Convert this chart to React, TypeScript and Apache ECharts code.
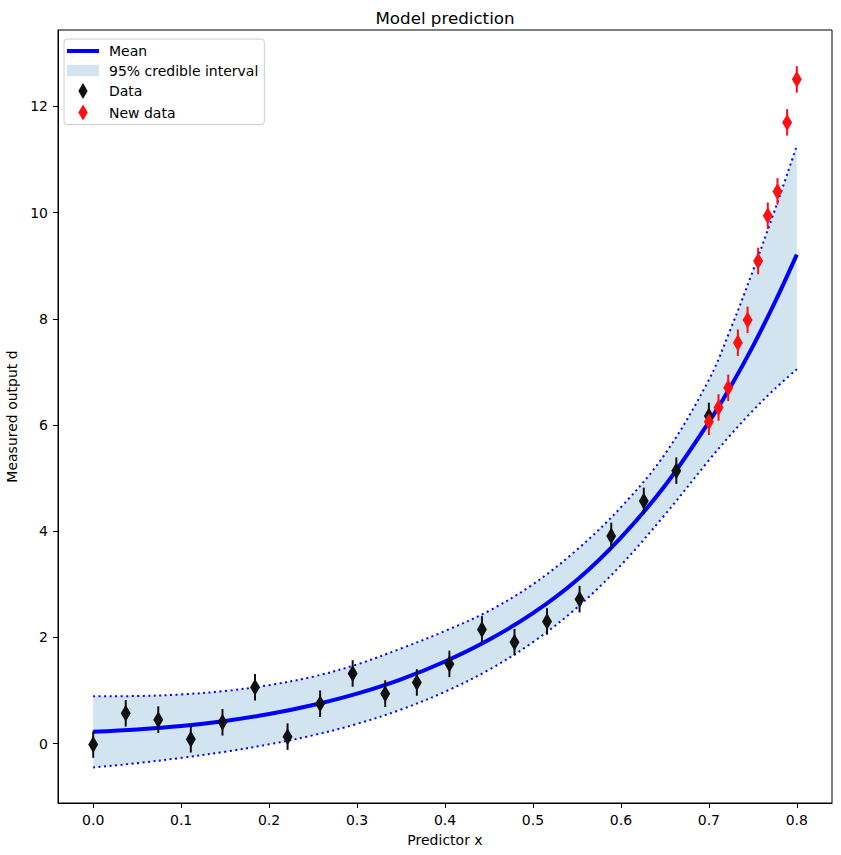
import React, { useEffect, useRef } from "react";
import * as echarts from "echarts";

// Posterior prediction grid (x) with mean and 95% credible band
const gridX = [0, 0.05, 0.1, 0.15, 0.2, 0.25, 0.3, 0.35, 0.4, 0.45, 0.5, 0.55, 0.6, 0.65, 0.7, 0.725, 0.75, 0.775, 0.8];
const meanY = [0.22, 0.265, 0.33, 0.425, 0.555, 0.725, 0.94, 1.21, 1.545, 1.955, 2.455, 3.08, 3.88, 4.855, 6.055, 6.73, 7.48, 8.31, 9.21];
const upperY = [0.89, 0.895, 0.925, 0.99, 1.1, 1.26, 1.49, 1.79, 2.12, 2.5, 3.0, 3.65, 4.45, 5.45, 6.85, 7.82, 8.9, 10.05, 11.26];
const lowerY = [-0.45, -0.37, -0.27, -0.155, -0.015, 0.155, 0.37, 0.64, 0.975, 1.39, 1.91, 2.56, 3.36, 4.31, 5.335, 5.82, 6.27, 6.68, 7.05];

// Observations used for fitting
const dataX = [0, 0.037, 0.074, 0.111, 0.147, 0.184, 0.221, 0.258, 0.295, 0.332, 0.368, 0.405, 0.442, 0.479, 0.516, 0.553, 0.589, 0.626, 0.663, 0.7];
const dataY = [-0.02, 0.57, 0.45, 0.08, 0.4, 1.06, 0.13, 0.75, 1.32, 0.94, 1.15, 1.5, 2.15, 1.91, 2.3, 2.72, 3.91, 4.57, 5.14, 6.17];

// Later observations beyond the fitted range
const newX = [0.7, 0.711, 0.722, 0.733, 0.744, 0.756, 0.767, 0.778, 0.789, 0.8];
const newY = [6.06, 6.33, 6.7, 7.55, 7.98, 9.09, 9.94, 10.4, 11.7, 12.51];

// Measurement error (half-length of the error bars)
const measErr = 0.25;

const xTicks = [0, 0.1, 0.2, 0.3, 0.4, 0.5, 0.6, 0.7, 0.8];
const yTicks = [0, 2, 4, 6, 8, 10, 12];

const FONT = "DejaVu Sans";
const DIAMOND = "path://M5,0 L10,8.5 L5,17 L0,8.5 Z";
const BAND_COLOR = "rgba(31,119,180,0.2)";
const BLACK = "#101010";
const RED = "#ff1010";
const BLUE = "#0000ff";
const SMOOTH = 0.35;

function errorBarSeries(xs: number[], ys: number[], color: string) {
  return {
    type: "custom",
    silent: true,
    z: 5,
    encode: { x: 0, y: 1 },
    data: xs.map((x, i) => [x, ys[i], measErr]),
    renderItem: (_params: any, api: any) => {
      const x = api.value(0);
      const y = api.value(1);
      const e = api.value(2);
      const top = api.coord([x, y + e]);
      const bot = api.coord([x, y - e]);
      return {
        type: "line",
        shape: { x1: top[0], y1: top[1], x2: bot[0], y2: bot[1] },
        style: { stroke: color, lineWidth: 2 },
      };
    },
  };
}

export default function App() {
  const ref = useRef<HTMLDivElement>(null);

  useEffect(() => {
    if (!ref.current) return;
    const chart = echarts.init(ref.current, null, { renderer: "svg" });

    const option = {
      animation: false,
      backgroundColor: "#ffffff",
      textStyle: { fontFamily: FONT },
      grid: {
        left: 58,
        right: 9,
        top: 30,
        bottom: 52,
        containLabel: false,
        outerBoundsMode: "none",
        show: true,
        borderColor: "#000",
        borderWidth: 1,
        backgroundColor: "transparent",
      },
      graphic: [
        {
          type: "text",
          x: 445,
          y: 18,
          style: {
            text: "Model prediction",
            font: `16.7px ${FONT}`,
            fill: "#000",
            textAlign: "center",
            textVerticalAlign: "middle",
          },
        },
      ],
      legend: {
        orient: "vertical",
        left: 64,
        top: 39,
        padding: [5, 6, 4, 3],
        itemWidth: 32,
        itemHeight: 16,
        itemGap: 5.5,
        backgroundColor: "rgba(255,255,255,0.8)",
        borderColor: "#cccccc",
        borderWidth: 1,
        borderRadius: 3,
        selectedMode: false,
        textStyle: { fontFamily: FONT, fontSize: 14, color: "#000", padding: [0, 0, 0, 5] },
        data: [
          { name: "Mean", icon: "path://M0,0 H32 V4 H0 Z", itemStyle: { color: BLUE, borderWidth: 0 } },
          { name: "95% credible interval", icon: "path://M0,0 H28 V10 H0 Z", itemStyle: { color: BAND_COLOR, borderWidth: 0 } },
          { name: "Data", icon: DIAMOND, itemStyle: { color: BLACK, borderWidth: 0, opacity: 1 } },
          { name: "New data", icon: DIAMOND, itemStyle: { color: RED, borderWidth: 0, opacity: 1 } },
        ],
      },
      xAxis: {
        type: "value",
        min: -0.04,
        max: 0.84,
        z: 10,
        name: "Predictor x",
        nameLocation: "middle",
        nameGap: 30,
        nameTextStyle: { fontFamily: FONT, fontSize: 14, color: "#000" },
        axisLine: { show: true, onZero: false, lineStyle: { color: "#000", width: 1 } },
        axisTick: { show: true, length: 5, customValues: xTicks, lineStyle: { color: "#000" } },
        axisLabel: {
          customValues: xTicks,
          formatter: (v: number) => v.toFixed(1),
          margin: 10,
          fontFamily: FONT,
          fontSize: 14,
          color: "#000",
        },
        splitLine: { show: false },
      },
      yAxis: {
        type: "value",
        min: -1.12,
        max: 13.44,
        z: 10,
        name: "Measured output d",
        nameLocation: "middle",
        nameGap: 29,
        nameRotate: 90,
        nameTextStyle: { fontFamily: FONT, fontSize: 14, color: "#000" },
        axisLine: { show: true, onZero: false, lineStyle: { color: "#000", width: 1 } },
        axisTick: { show: true, length: 5, customValues: yTicks, lineStyle: { color: "#000" } },
        axisLabel: {
          customValues: yTicks,
          formatter: (v: number) => String(v),
          margin: 10,
          fontFamily: FONT,
          fontSize: 14,
          color: "#000",
        },
        splitLine: { show: false },
      },
      series: [
        // Credible band as a stacked pair: [value, x] rows with encode so that
        // the stacked (first numeric) dimension is the y value.
        {
          name: "band-base",
          type: "line",
          stack: "band",
          stackStrategy: "all",
          smooth: SMOOTH,
          symbol: "none",
          silent: true,
          z: 1,
          encode: { x: 1, y: 0 },
          lineStyle: { opacity: 0 },
          data: gridX.map((x, i) => [lowerY[i], x]),
        },
        {
          name: "95% credible interval",
          type: "line",
          stack: "band",
          stackStrategy: "all",
          smooth: SMOOTH,
          symbol: "none",
          silent: true,
          z: 1,
          encode: { x: 1, y: 0 },
          color: BAND_COLOR,
          lineStyle: { opacity: 0 },
          areaStyle: { color: BAND_COLOR, opacity: 1 },
          data: gridX.map((x, i) => [upperY[i] - lowerY[i], x]),
        },
        {
          name: "band-upper",
          type: "line",
          smooth: SMOOTH,
          symbol: "none",
          silent: true,
          z: 3,
          lineStyle: { color: BLUE, width: 2, type: [2, 3.5] },
          data: gridX.map((x, i) => [x, upperY[i]]),
        },
        {
          name: "band-lower",
          type: "line",
          smooth: SMOOTH,
          symbol: "none",
          silent: true,
          z: 3,
          lineStyle: { color: BLUE, width: 2, type: [2, 3.5] },
          data: gridX.map((x, i) => [x, lowerY[i]]),
        },
        {
          name: "Mean",
          type: "line",
          smooth: SMOOTH,
          symbol: "none",
          silent: true,
          z: 4,
          color: BLUE,
          lineStyle: { color: BLUE, width: 4 },
          data: gridX.map((x, i) => [x, meanY[i]]),
        },
        errorBarSeries(dataX, dataY, BLACK),
        {
          name: "Data",
          type: "scatter",
          symbol: DIAMOND,
          symbolSize: [10, 17],
          z: 6,
          silent: true,
          itemStyle: { color: BLACK, opacity: 1 },
          data: dataX.map((x, i) => [x, dataY[i]]),
        },
        errorBarSeries(newX, newY, RED),
        {
          name: "New data",
          type: "scatter",
          symbol: DIAMOND,
          symbolSize: [10, 17],
          z: 6,
          silent: true,
          itemStyle: { color: RED, opacity: 1 },
          data: newX.map((x, i) => [x, newY[i]]),
        },
      ],
    };

    chart.setOption(option as any);
    return () => chart.dispose();
  }, []);

  return (
    <div
      ref={ref}
      style={{ position: "absolute", left: 0, top: 0, width: 841, height: 855, background: "#fff" }}
    />
  );
}
